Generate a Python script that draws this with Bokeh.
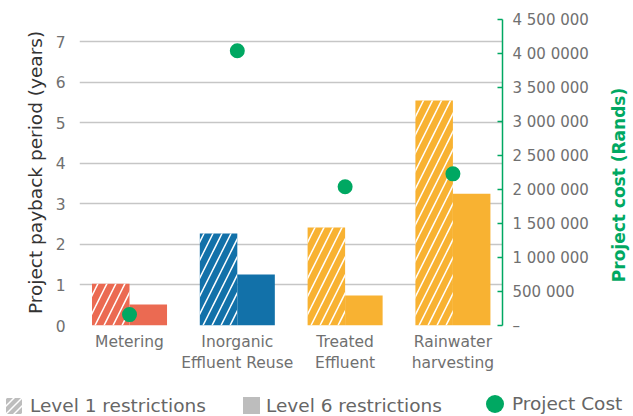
from bokeh.plotting import figure
from bokeh.layouts import column, row
from bokeh.models import Range1d, LinearAxis, FixedTicker, ColumnDataSource, Div
from bokeh.transform import dodge
from bokeh.embed import file_html
from bokeh.resources import INLINE

# ---- data ----
categories = ["Metering", "Inorganic\nEffluent Reuse", "Treated\nEffluent", "Rainwater\nharvesting"]
level1_years = [1.03, 2.27, 2.42, 5.55]
level6_years = [0.52, 1.26, 0.74, 3.25]
project_cost = [160000, 4040000, 2040000, 2230000]
bar_colors = ["#EB6A52", "#1271A9", "#F8B232", "#F8B232"]
left_ticks = [0, 1, 2, 3, 4, 5, 6, 7]
right_ticks = [0, 500000, 1000000, 1500000, 2000000, 2500000, 3000000, 3500000, 4000000, 4500000]
right_tick_labels = ["–", "500 000", "1 000 000", "1 500 000", "2 000 000", "2 500 000",
                     "3 000 000", "3 500 000", "4 00 0000", "4 500 000"]
legend_labels = ["Level 1 restrictions", "Level 6 restrictions", "Project Cost"]
left_title = "Project payback period (years)"
right_title = "Project cost (Rands)"

FONT = "DejaVu Sans"
GREEN = "#00A862"
LEGEND_GREY = "#BDBDBD"

x_idx = list(range(len(categories)))
src = ColumnDataSource(dict(x=x_idx, l1=level1_years, l6=level6_years,
                            cost=project_cost, color=bar_colors))

p = figure(width=603, height=380, output_backend="svg", toolbar_location=None,
           x_range=Range1d(-0.464, 3.46), y_range=Range1d(0, 7.547),
           min_border_left=79, min_border_right=101, min_border_top=19, min_border_bottom=55)
p.extra_y_ranges = {"cost": Range1d(0, 4500000)}
p.outline_line_color = None

# grid
p.xgrid.grid_line_color = None
p.ygrid.grid_line_color = "#C6C6C6"
p.ygrid.grid_line_width = 1.5

# bars
p.vbar(x=dodge("x", -0.174, range=p.x_range), top="l1", width=0.348, source=src,
       fill_color="color", line_color=None,
       hatch_pattern="/", hatch_color="white", hatch_scale=18, hatch_weight=1.5)
p.vbar(x=dodge("x", 0.174, range=p.x_range), top="l6", width=0.348, source=src,
       fill_color="color", line_color=None)

# cost points
p.scatter(x="x", y="cost", source=src, y_range_name="cost", size=15,
          fill_color=GREEN, line_color=None)

# left axis
yax = p.yaxis[0]
yax.ticker = FixedTicker(ticks=left_ticks)
yax.axis_line_color = None
yax.major_tick_line_color = None
yax.minor_tick_line_color = None
yax.major_label_text_font = FONT
yax.major_label_text_font_size = "15.5px"
yax.major_label_text_color = "#707070"
yax.major_label_standoff = 8
yax.axis_label = left_title
yax.axis_label_text_font = FONT
yax.axis_label_text_font_size = "18.5px"
yax.axis_label_text_font_style = "normal"
yax.axis_label_text_color = "#333333"
yax.axis_label_standoff = 7

# x axis
xax = p.xaxis[0]
xax.ticker = FixedTicker(ticks=x_idx)
xax.major_label_overrides = {i: c for i, c in zip(x_idx, categories)}
xax.axis_line_color = None
xax.major_tick_line_color = None
xax.minor_tick_line_color = None
xax.major_label_text_font = FONT
xax.major_label_text_font_size = "15.5px"
xax.major_label_text_color = "#707070"
xax.major_label_standoff = 1

# right axis
rax = LinearAxis(y_range_name="cost")
rax.ticker = FixedTicker(ticks=right_ticks)
rax.major_label_overrides = {t: l for t, l in zip(right_ticks, right_tick_labels)}
rax.axis_line_color = GREEN
rax.axis_line_width = 1.5
rax.major_tick_line_color = GREEN
rax.major_tick_line_width = 1.5
rax.major_tick_in = 5
rax.major_tick_out = 0
rax.minor_tick_line_color = None
rax.major_label_text_font = FONT
rax.major_label_text_font_size = "15px"
rax.major_label_text_color = "#707070"
rax.major_label_standoff = 10
p.add_layout(rax, "right")

TXT = f"font-family:'{FONT}';font-size:18.5px;font-weight:normal;fill:#666666"

# right axis title (reads bottom-to-top, as in the reference)
right_div = Div(width=30, height=380, margin=(0, 0, 0, 0), text=f"""
<svg xmlns="http://www.w3.org/2000/svg" width="30" height="380" style="display:block">
  <text x="0" y="0" transform="translate(16,185) rotate(-90)" text-anchor="middle"
        dominant-baseline="central"
        style="font-family:'{FONT}';font-size:17px;font-weight:bold;fill:{GREEN}">{right_title}</text>
</svg>""")

# legend strip
legend_div = Div(width=633, height=36, margin=(0, 0, 0, 0), text=f"""
<svg xmlns="http://www.w3.org/2000/svg" width="633" height="36" style="display:block">
  <defs>
    <pattern id="hatchL1" patternUnits="userSpaceOnUse" width="8" height="8">
      <rect width="8" height="8" fill="{LEGEND_GREY}"/>
      <path d="M-2,2 L2,-2 M0,8 L8,0 M6,10 L10,6" stroke="white" stroke-width="1.5"/>
    </pattern>
  </defs>
  <rect x="6" y="18" width="16" height="16" fill="url(#hatchL1)"/>
  <text x="30" y="32" style="{TXT}">{legend_labels[0]}</text>
  <rect x="243" y="17" width="17" height="17" fill="{LEGEND_GREY}"/>
  <text x="266" y="32" style="{TXT}">{legend_labels[1]}</text>
  <circle cx="495" cy="24" r="9" fill="{GREEN}"/>
  <text x="512" y="30" style="{TXT}">{legend_labels[2]}</text>
</svg>""")

layout = column(row(p, right_div, spacing=0), legend_div, spacing=0)
open("out.html", "w").write(file_html(layout, INLINE))
